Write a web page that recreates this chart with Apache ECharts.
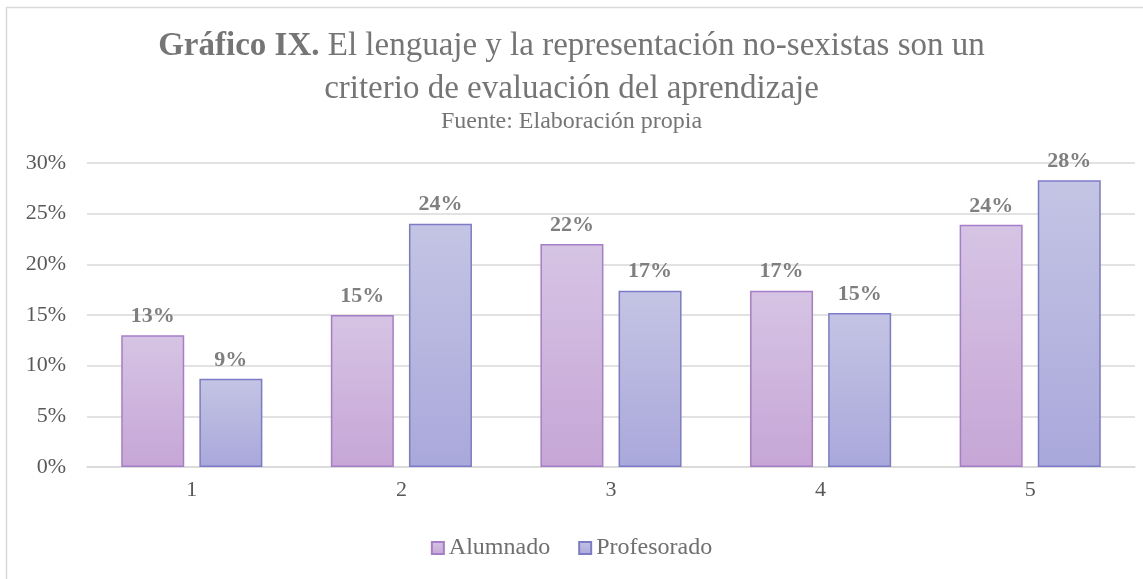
<!DOCTYPE html>
<html>
<head>
<meta charset="utf-8">
<script src="https://cdn.jsdelivr.net/npm/echarts@6/dist/echarts.min.js"></script>
<style>
  html, body { margin: 0; padding: 0; background: #fff; }
  #chart { width: 1143px; height: 579px; }
</style>
</head>
<body>
<div id="chart"></div>
<script>
var categories = ["1", "2", "3", "4", "5"];
var alumnado = [13, 15, 22, 17.4, 23.9];
var profesorado = [8.7, 24, 17.4, 15.2, 28.3];
var yTicks = [0, 5, 10, 15, 20, 25, 30];

var serif = "Liberation Serif";
var myChart = echarts.init(document.getElementById("chart"));

function grad(top, bottom) {
  return new echarts.graphic.LinearGradient(0, 0, 0, 1, [
    { offset: 0, color: top },
    { offset: 1, color: bottom },
  ]);
}

var labelStyle = {
  show: true,
  position: "top",
  distance: 8,
  fontFamily: serif,
  fontWeight: "bold",
  fontSize: 22,
  color: "#7f7f7f",
  formatter: function (p) {
    return Math.round(p.value) + "%";
  },
};

var titleFont = {
  fontFamily: serif,
  fontSize: 33,
  fontWeight: "normal",
  color: "#757575",
};

var options = {
  backgroundColor: "#fff",
  textStyle: { fontFamily: serif },
  graphic: [
    {
      type: "rect",
      shape: { x: 6.5, y: 7.5, width: 1150, height: 580 },
      style: { fill: "none", stroke: "#d9d9d9", lineWidth: 1.5 },
      silent: true,
    },
  ],
  title: [
    {
      text: "{b|Gráfico IX.} El lenguaje y la representación no-sexistas son un",
      left: "center",
      top: 25,
      textStyle: {
        fontFamily: serif,
        fontSize: 33,
        fontWeight: "normal",
        color: "#757575",
        rich: {
          b: { fontFamily: serif, fontSize: 33, fontWeight: "bold", color: "#757575" },
        },
      },
    },
    {
      text: "criterio de evaluación del aprendizaje",
      left: "center",
      top: 68,
      textStyle: titleFont,
    },
    {
      text: "Fuente: Elaboración propia",
      left: "center",
      top: 105,
      textStyle: {
        fontFamily: serif,
        fontSize: 24,
        fontWeight: "normal",
        color: "#757575",
      },
    },
  ],
  legend: {
    bottom: 14,
    left: "center",
    itemWidth: 12,
    itemHeight: 12,
    itemGap: 28,
    icon: "rect",
    textStyle: { fontFamily: serif, fontSize: 24, color: "#6f6f6f", padding: [0, 0, 0, 0] },
    data: ["Alumnado", "Profesorado"],
  },
  grid: {
    left: 87,
    right: 8,
    top: 163,
    bottom: 112,
    containLabel: false,
  },
  xAxis: {
    type: "category",
    data: categories,
    axisLine: { lineStyle: { color: "#d9d9d9", width: 1.5 } },
    axisTick: { show: false },
    axisLabel: { fontFamily: serif, fontSize: 22, color: "#595959", margin: 12 },
  },
  yAxis: {
    type: "value",
    min: yTicks[0],
    max: yTicks[yTicks.length - 1],
    interval: 5,
    axisLine: { show: false },
    axisTick: { show: false },
    axisLabel: {
      fontFamily: serif,
      fontSize: 22,
      color: "#595959",
      margin: 21,
      formatter: "{value}%",
    },
    splitLine: { lineStyle: { color: "#d9d9d9", width: 1.5 } },
  },
  series: [
    {
      name: "Alumnado",
      type: "bar",
      data: alumnado,
      barWidth: 63,
      barGap: "24%",
      itemStyle: {
        color: grad("#d6c4e4", "#c6a6d6"),
        borderColor: "#a67dc8",
        borderWidth: 1.5,
      },
      label: labelStyle,
    },
    {
      name: "Profesorado",
      type: "bar",
      data: profesorado,
      barWidth: 63,
      barGap: "24%",
      itemStyle: {
        color: grad("#c4c4e4", "#a9a8db"),
        borderColor: "#7d7bc8",
        borderWidth: 1.5,
      },
      label: labelStyle,
    },
  ],
};

myChart.setOption(options);
</script>
</body>
</html>
